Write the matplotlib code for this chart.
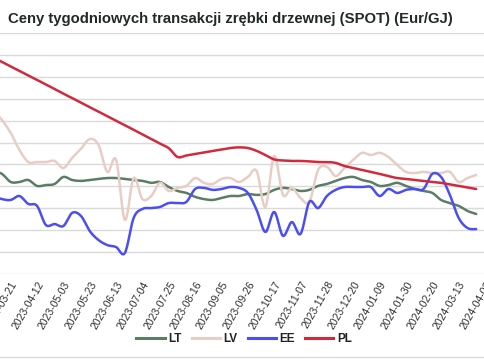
import numpy as np
import matplotlib
matplotlib.use("Agg")
import matplotlib.pyplot as plt
from matplotlib.lines import Line2D

plt.rcParams['font.family'] = ['Liberation Sans', 'DejaVu Sans']

title = "Ceny tygodniowych transakcji zrębki drzewnej (SPOT) (Eur/GJ)"

# tick labels: one label every 3 weekly observations (first label at index 2)
tick_labels = ["2023-03-21", "2023-04-12", "2023-05-03", "2023-05-23", "2023-06-13",
               "2023-07-04", "2023-07-25", "2023-08-16", "2023-09-05", "2023-09-26",
               "2023-10-17", "2023-11-07", "2023-11-28", "2023-12-20", "2024-01-09",
               "2024-01-30", "2024-02-20", "2024-03-13", "2024-04-03"]

LT = [4.70, 4.57, 4.20, 4.20, 4.29, 4.02, 4.06, 4.11, 4.43, 4.29, 4.25, 4.29, 4.34, 4.38,
      4.38, 4.34, 4.29, 4.25, 4.16, 4.20, 3.97, 3.79, 3.70, 3.52, 3.42, 3.38, 3.47, 3.56,
      3.56, 3.65, 3.61, 3.65, 3.84, 3.93, 3.88, 3.79, 3.84, 4.02, 4.11, 4.25, 4.38, 4.43,
      4.29, 4.20, 4.02, 4.06, 4.16, 4.02, 3.88, 3.79, 3.70, 3.38, 3.24, 3.11, 2.88, 2.74]

LV = [7.49, 7.03, 6.44, 5.66, 5.11, 5.11, 5.11, 5.16, 4.84, 5.30, 5.71, 6.16, 5.89, 4.66,
      5.21, 2.47, 4.38, 3.42, 3.56, 4.16, 3.79, 3.93, 4.02, 4.38, 4.16, 4.11, 4.34, 4.38,
      4.20, 4.43, 4.70, 3.06, 5.39, 3.61, 3.93, 3.47, 3.29, 4.75, 4.89, 4.47, 4.84, 5.21,
      5.53, 5.43, 5.53, 5.34, 4.98, 4.66, 4.61, 4.66, 4.61, 4.61, 4.66, 4.20, 4.38, 4.52]

EE = [3.56, 3.42, 3.38, 3.56, 3.20, 3.11, 2.24, 2.28, 2.19, 2.79, 2.65, 1.96, 1.55, 1.32,
      1.23, 0.96, 2.56, 2.97, 3.01, 3.06, 3.24, 3.24, 3.29, 3.88, 3.93, 3.84, 3.88, 3.97,
      3.93, 3.70, 2.92, 1.92, 2.83, 1.74, 2.37, 1.83, 3.29, 3.01, 3.56, 3.84, 3.97, 3.97,
      3.97, 3.97, 3.56, 3.88, 3.70, 3.84, 3.88, 3.88, 4.57, 4.43, 3.61, 2.56, 2.10, 2.05]

PL = [9.89, 9.68, 9.47, 9.27, 9.06, 8.86, 8.65, 8.44, 8.23, 8.03, 7.82, 7.61, 7.41, 7.20,
      6.99, 6.79, 6.58, 6.37, 6.16, 5.95, 5.74, 5.34, 5.41, 5.48, 5.55, 5.62, 5.68, 5.75,
      5.78, 5.75, 5.62, 5.43, 5.23, 5.18, 5.16, 5.16, 5.14, 5.11, 5.11, 5.07, 4.93, 4.84,
      4.75, 4.66, 4.57, 4.47, 4.38, 4.34, 4.29, 4.25, 4.20, 4.16, 4.09, 4.02, 3.95, 3.88]

series = [("LT", LT, "#5b7d64"), ("LV", LV, "#e8cdc6"), ("EE", EE, "#4b4ff2"), ("PL", PL, "#d12a3d")]


def smooth_curve(x, y, n=16):
    """Catmull-Rom style Bezier smoothing (like a spreadsheet 'smoothed line')."""
    x = np.asarray(x, float)
    y = np.asarray(y, float)
    xs, ys = [], []
    m = len(x)
    for i in range(m - 1):
        i0 = max(i - 1, 0)
        i3 = min(i + 2, m - 1)
        p0 = np.array([x[i0], y[i0]])
        p1 = np.array([x[i], y[i]])
        p2 = np.array([x[i + 1], y[i + 1]])
        p3 = np.array([x[i3], y[i3]])
        c1 = p1 + (p2 - p0) / 6.0
        c2 = p2 - (p3 - p1) / 6.0
        t = np.linspace(0, 1, n, endpoint=(i == m - 2))
        b = ((1 - t) ** 3)[:, None] * p1 + (3 * (1 - t) ** 2 * t)[:, None] * c1 \
            + (3 * (1 - t) * t ** 2)[:, None] * c2 + (t ** 3)[:, None] * p2
        xs.append(b[:, 0])
        ys.append(b[:, 1])
    return np.concatenate(xs), np.concatenate(ys)


fig = plt.figure(figsize=(4.85, 3.6), dpi=100)
ax = fig.add_axes([0.0, 0.2389, 1.0, 0.6694])

x = np.arange(len(LT))
for name, vals, col in series:
    sx, sy = smooth_curve(x, vals)
    ax.plot(sx, sy, color=col, lw=1.8, solid_capstyle='round', zorder=3)

ax.set_xlim(0.782, 54.49)
ax.set_ylim(0, 11)
ax.set_yticks(np.arange(0, 12, 1))
ax.set_yticklabels([])
ax.tick_params(axis='y', length=0)
ax.grid(axis='y', color='#dadada', lw=1.0, zorder=0)
for s in ax.spines.values():
    s.set_visible(False)

tick_pos = [2 + 3 * j for j in range(len(tick_labels))]
ax.set_xticks(tick_pos)
ax.set_xticklabels(tick_labels, rotation=60, ha='right', va='top',
                   rotation_mode='anchor', fontsize=7.5, color='#2e2e2e')
ax.tick_params(axis='x', length=0, pad=4)

fig.text(0.016, 0.947, title, fontsize=10.75, fontweight='bold', color='#1f2a23',
         ha='left', va='center')

handles = [Line2D([0], [0], color=c, lw=2.2) for _, _, c in series]
fig.legend(handles, [n for n, _, _ in series], loc='center', bbox_to_anchor=(0.503, 0.059),
           ncol=4, frameon=False, handlelength=2.4, handletextpad=0.3, columnspacing=0.85,
           prop={'weight': 'bold', 'size': 8.5}, labelcolor='#222222')

fig.add_artist(Line2D([0, 1], [0.008, 0.008], transform=fig.transFigure, color='#dadada', lw=1.0))

fig.savefig("out.png", dpi=100)
